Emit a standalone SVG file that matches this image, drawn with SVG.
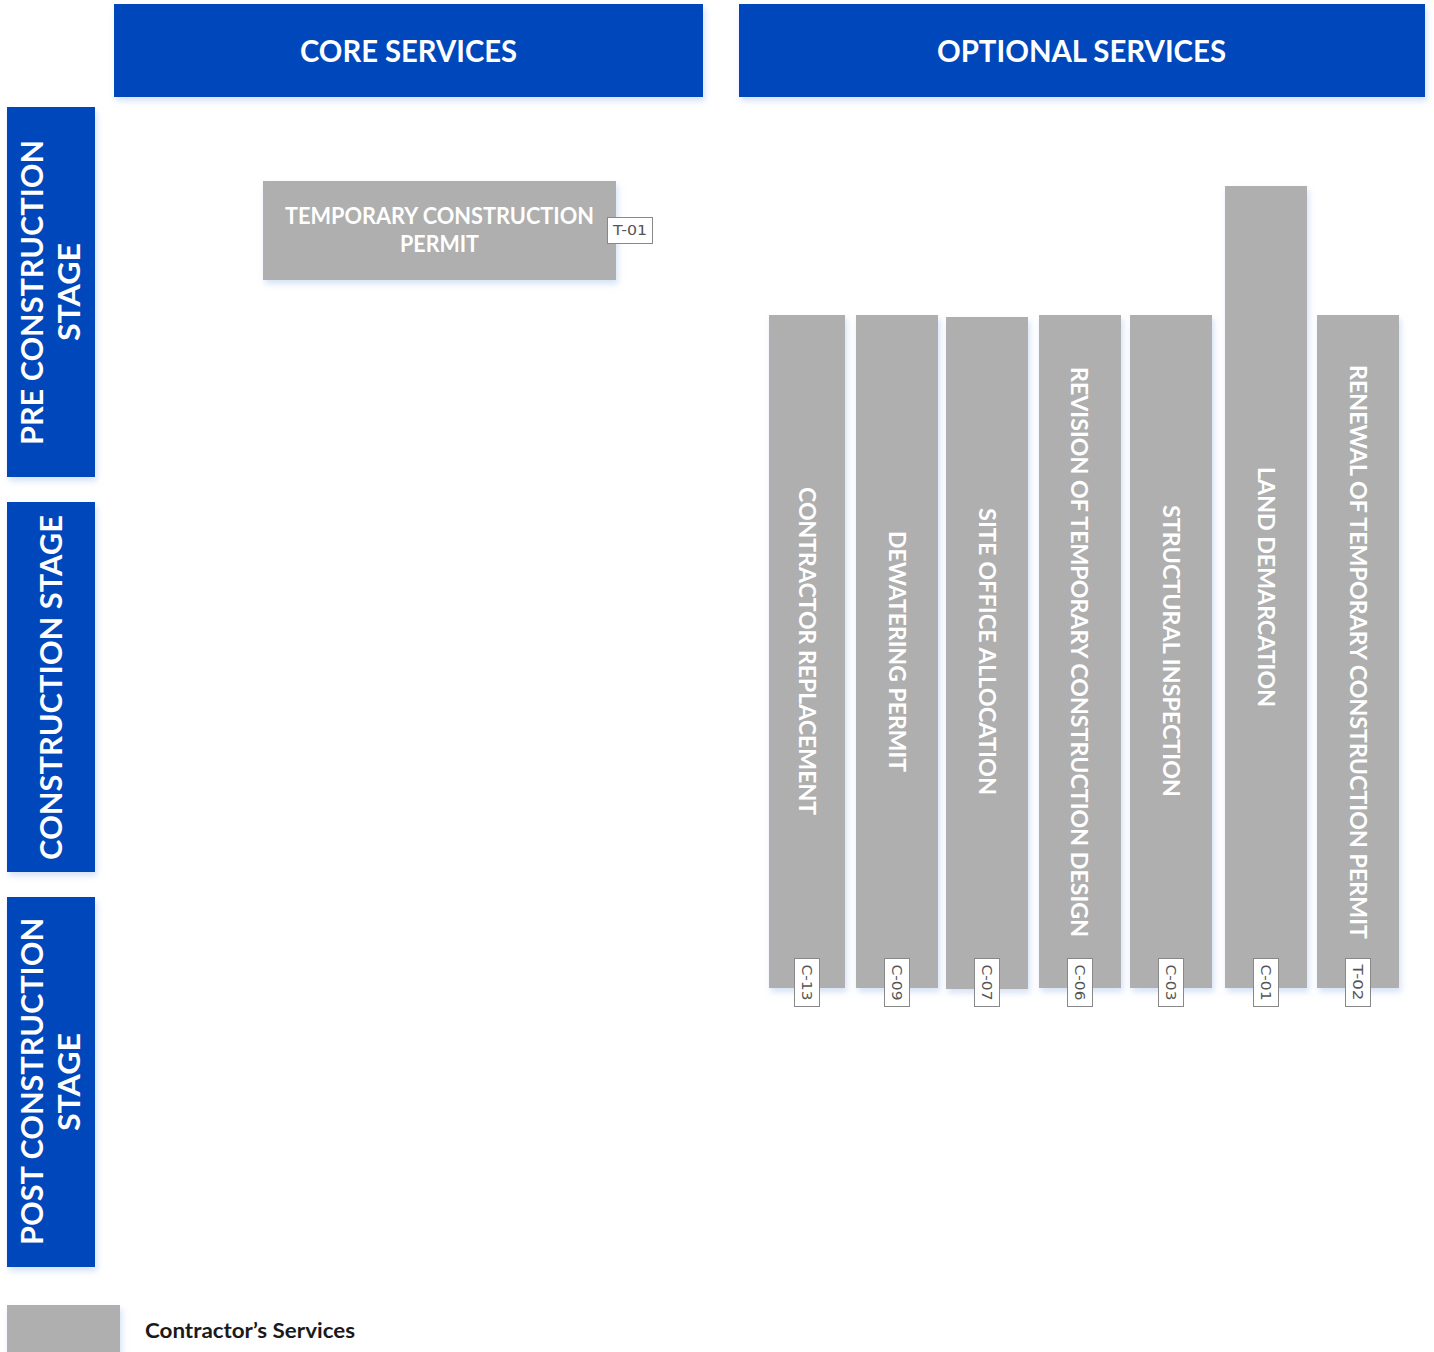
<svg xmlns="http://www.w3.org/2000/svg" width="1434" height="1352" viewBox="0 0 1434 1352">
<defs>
<filter id="sh" x="-10%" y="-10%" width="130%" height="130%">
<feDropShadow dx="2" dy="4" stdDeviation="3" flood-color="#b9cff0" flood-opacity="0.6"/>
</filter>
<style>
.hdr{fill:#0047BB;filter:url(#sh)}
.svc{fill:#AEAFAE;filter:url(#sh)}
.ht{font-family:Lato,"Open Sans",sans-serif;font-weight:bold;fill:#fff;font-size:30px;text-anchor:middle}
.st{font-family:Lato,"Open Sans",sans-serif;font-weight:bold;fill:#fff;font-size:30px;text-anchor:middle}
.bt{font-family:Lato,"Open Sans",sans-serif;font-weight:bold;fill:#fff;font-size:23px;text-anchor:middle}
.tag{fill:#fff;stroke:#888;stroke-width:1}
.tt{font-family:"DejaVu Sans","Liberation Sans",sans-serif;fill:#555;font-size:13.5px;text-anchor:middle}
.lg{font-family:Lato,"Open Sans",sans-serif;font-weight:bold;fill:#1a1a1a;font-size:21px}
</style>
</defs>
<g id="header-core"><rect class="hdr" x="114" y="4" width="589" height="93"/><text class="ht" x="408.5" y="62" textLength="217" lengthAdjust="spacingAndGlyphs">CORE SERVICES</text></g>
<g id="header-optional"><rect class="hdr" x="739" y="4" width="686" height="93"/><text class="ht" x="1081.5" y="62" textLength="289" lengthAdjust="spacingAndGlyphs">OPTIONAL SERVICES</text></g>

<g id="stage-pre"><rect class="hdr" x="7" y="107" width="88" height="370"/>
<text class="st" transform="translate(43,292.5) rotate(-90)" textLength="305" lengthAdjust="spacingAndGlyphs">PRE CONSTRUCTION</text>
<text class="st" transform="translate(80,292) rotate(-90)" textLength="98" lengthAdjust="spacingAndGlyphs">STAGE</text></g>
<g id="stage-construction"><rect class="hdr" x="7" y="502" width="88" height="370"/>
<text class="st" transform="translate(62,687.5) rotate(-90)" textLength="345" lengthAdjust="spacingAndGlyphs">CONSTRUCTION STAGE</text></g>
<g id="stage-post"><rect class="hdr" x="7" y="897" width="88" height="370"/>
<text class="st" transform="translate(43,1081.5) rotate(-90)" textLength="327" lengthAdjust="spacingAndGlyphs">POST CONSTRUCTION</text>
<text class="st" transform="translate(80,1082) rotate(-90)" textLength="98" lengthAdjust="spacingAndGlyphs">STAGE</text></g>

<g id="T-01"><rect class="svc" x="263" y="181" width="353" height="99"/>
<text class="bt" x="439.5" y="223.5" textLength="309" lengthAdjust="spacingAndGlyphs">TEMPORARY CONSTRUCTION</text>
<text class="bt" x="439.5" y="252" textLength="79" lengthAdjust="spacingAndGlyphs">PERMIT</text>
<rect class="tag" x="607.5" y="217.5" width="45" height="26"/><text class="tt" x="630" y="235" textLength="34" lengthAdjust="spacingAndGlyphs">T-01</text></g>

<g id="C-13"><rect class="svc" x="769" y="315" width="76" height="673"/>
<text class="bt" transform="translate(798.5,651) rotate(90)" textLength="328" lengthAdjust="spacingAndGlyphs">CONTRACTOR REPLACEMENT</text>
<rect class="tag" x="794.5" y="958.5" width="25" height="48"/><text class="tt" transform="translate(802,982.5) rotate(90)" textLength="36" lengthAdjust="spacingAndGlyphs">C-13</text></g>

<g id="C-09"><rect class="svc" x="856" y="315" width="82" height="673"/>
<text class="bt" transform="translate(888.5,651.5) rotate(90)" textLength="241" lengthAdjust="spacingAndGlyphs">DEWATERING PERMIT</text>
<rect class="tag" x="884.5" y="958.5" width="25" height="48"/><text class="tt" transform="translate(892,982.5) rotate(90)" textLength="36" lengthAdjust="spacingAndGlyphs">C-09</text></g>

<g id="C-07"><rect class="svc" x="946" y="317" width="82" height="672"/>
<text class="bt" transform="translate(978.5,651.5) rotate(90)" textLength="287" lengthAdjust="spacingAndGlyphs">SITE OFFICE ALLOCATION</text>
<rect class="tag" x="974.5" y="958.5" width="25" height="48"/><text class="tt" transform="translate(982,982.5) rotate(90)" textLength="36" lengthAdjust="spacingAndGlyphs">C-07</text></g>

<g id="C-06"><rect class="svc" x="1039" y="315" width="82" height="673"/>
<text class="bt" transform="translate(1071,652) rotate(90)" textLength="570" lengthAdjust="spacingAndGlyphs">REVISION OF TEMPORARY CONSTRUCTION DESIGN</text>
<rect class="tag" x="1067.5" y="958.5" width="25" height="48"/><text class="tt" transform="translate(1075,982.5) rotate(90)" textLength="36" lengthAdjust="spacingAndGlyphs">C-06</text></g>

<g id="C-03"><rect class="svc" x="1130" y="315" width="82" height="673"/>
<text class="bt" transform="translate(1162.5,651) rotate(90)" textLength="292" lengthAdjust="spacingAndGlyphs">STRUCTURAL INSPECTION</text>
<rect class="tag" x="1158.5" y="958.5" width="25" height="48"/><text class="tt" transform="translate(1166,982.5) rotate(90)" textLength="36" lengthAdjust="spacingAndGlyphs">C-03</text></g>

<g id="C-01"><rect class="svc" x="1225" y="186" width="82" height="802"/>
<text class="bt" transform="translate(1257.5,587) rotate(90)" textLength="240" lengthAdjust="spacingAndGlyphs">LAND DEMARCATION</text>
<rect class="tag" x="1253.5" y="958.5" width="25" height="48"/><text class="tt" transform="translate(1261,982.5) rotate(90)" textLength="36" lengthAdjust="spacingAndGlyphs">C-01</text></g>

<g id="T-02"><rect class="svc" x="1317" y="315" width="82" height="673"/>
<text class="bt" transform="translate(1349.5,652) rotate(90)" textLength="574" lengthAdjust="spacingAndGlyphs">RENEWAL OF TEMPORARY CONSTRUCTION PERMIT</text>
<rect class="tag" x="1345.5" y="958.5" width="25" height="48"/><text class="tt" transform="translate(1353,982.5) rotate(90)" textLength="36" lengthAdjust="spacingAndGlyphs">T-02</text></g>

<g id="connectors"></g>

<g id="legend"><rect class="svc" x="7" y="1305" width="113" height="50"/>
<text class="lg" x="145" y="1338" textLength="210" lengthAdjust="spacingAndGlyphs">Contractor’s Services</text></g>
</svg>
